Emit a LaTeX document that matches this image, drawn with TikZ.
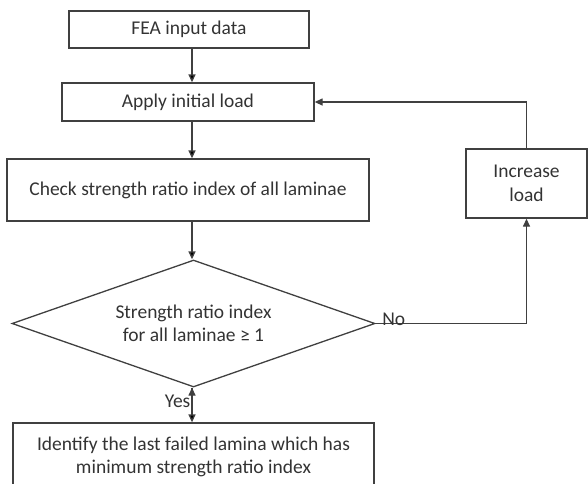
\documentclass[tikz,border=0pt]{standalone}
\usepackage{fontspec}
\setmainfont{Carlito}
\usetikzlibrary{shapes.geometric,arrows.meta}
\definecolor{linegray}{HTML}{404040}
\definecolor{textgray}{HTML}{333333}
\tikzset{
  stepbox/.style={rectangle,draw=linegray,line width=1.3pt,inner sep=0pt,align=center,text=textgray,font=\fontsize{19.5}{23.5}\selectfont},
  testbox/.style={diamond,aspect=2.86,draw=linegray,line width=1.3pt,inner sep=0pt,align=center,text=textgray,font=\fontsize{19.5}{23.5}\selectfont},
  flow/.style={draw=linegray,line width=1.3pt,-{Triangle[length=8pt,width=7pt]}},
  tag/.style={text=textgray,font=\fontsize{19.5}{23}\selectfont,inner sep=1pt}
}
\begin{document}
\begin{tikzpicture}[x=1pt,y=-1pt]
\useasboundingbox (0,0) rectangle (588,483);
\node[stepbox,minimum width=240pt,minimum height=37pt] (F) at (189,29.5) {FEA input data};
\node[stepbox,minimum width=252pt,minimum height=38pt] (A) at (188,102) {Apply initial load};
\node[stepbox,minimum width=362pt,minimum height=62pt] (C) at (188,190) {Check strength ratio index of all laminae};
\node[testbox,minimum width=363pt,minimum height=127pt] (S) at (193.5,323.5) {Strength ratio index\\for all laminae ≥ 1};
\node[stepbox,minimum width=121pt,minimum height=69pt] (I) at (526.5,183.5) {Increase\\load};
\node[stepbox,minimum width=361pt,minimum height=68pt] (L) at (193.5,457) {Identify the last failed lamina which has\\minimum strength ratio index};
\coordinate (spine) at (192,0);
\path[flow]
  (F.south -| spine) edge (A.north -| spine)
  (A.south -| spine) edge (C.north -| spine)
  (C.south -| spine) edge (S.north -| spine)
  (S.south -| spine) edge node [tag,left,pos=0.4] {Yes} (L.north -| spine)
;
\draw[flow] (S.east) node [tag,anchor=south west,inner sep=0pt,xshift=6pt,yshift=-3pt] {No} -| (I.south);
\draw[flow] (I.north) |- (A.east);
\end{tikzpicture}
\end{document}
